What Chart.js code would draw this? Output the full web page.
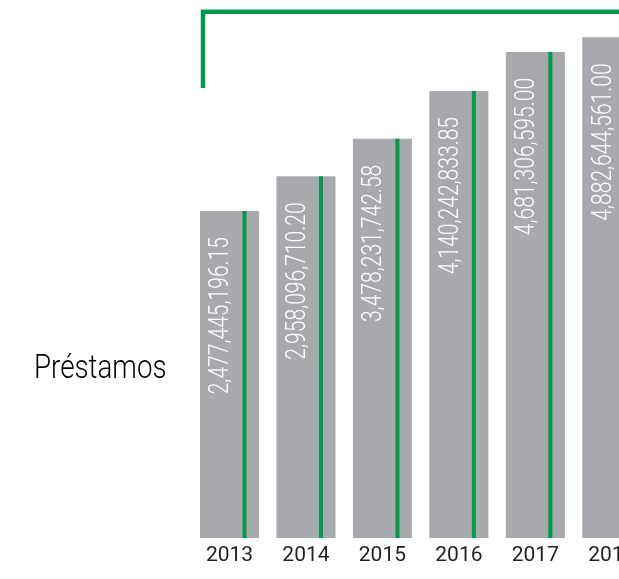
<!DOCTYPE html>
<html>
<head>
<meta charset="utf-8">
<script src="https://cdn.jsdelivr.net/npm/chart.js@4"></script>
<style>
  html, body { margin: 0; padding: 0; background: #fff; overflow: hidden; }
  #wrap { position: relative; width: 650px; height: 579px; }
</style>
</head>
<body>
<div id="wrap"><canvas id="chart"></canvas></div>
<script>
const YEARS = ["2013", "2014", "2015", "2016", "2017", "2018"];
const PRESTAMOS = [2477445196.15, 2958096710.20, 3478231742.58, 4140242833.85, 4681306595.00, 4882644561.00];
const SERIES_LABEL = "Préstamos";

const GREEN = "#009a4e";
const GREY = "#a7a9ac";
const INK = "#231f20";

const fmt = v => v.toLocaleString("en-US", { minimumFractionDigits: 2, maximumFractionDigits: 2 });

// bracket, green rule through each bar, rotated values and the row title
const decorations = {
    id: "decorations",
    afterDatasetsDraw(chart) {
        const ctx = chart.ctx;
        const meta = chart.getDatasetMeta(0);
        const area = chart.chartArea;

        ctx.save();
        ctx.strokeStyle = GREEN;
        ctx.lineWidth = 4.5;
        ctx.lineCap = "butt";
        ctx.beginPath();
        ctx.moveTo(203, 88);
        ctx.lineTo(203, 11.7);
        ctx.lineTo(chart.width, 11.7);
        ctx.stroke();

        meta.data.forEach((bar, i) => {
            ctx.fillStyle = GREEN;
            ctx.fillRect(bar.x + 13, bar.y, 4, area.bottom - bar.y);

            ctx.save();
            ctx.translate(bar.x - 1.2, bar.y + 26);
            ctx.rotate(-Math.PI / 2);
            ctx.scale(0.78, 1);
            ctx.font = "300 27px Roboto";
            ctx.fillStyle = "#ffffff";
            ctx.textAlign = "right";
            ctx.textBaseline = "alphabetic";
            ctx.fillText(fmt(PRESTAMOS[i]), 0, 0);
            ctx.restore();
        });

        ctx.save();
        ctx.translate(34, 377.5);
        ctx.scale(0.84, 1);
        ctx.font = "300 33px Roboto";
        ctx.fillStyle = "#000000";
        ctx.textAlign = "left";
        ctx.textBaseline = "alphabetic";
        ctx.fillText(SERIES_LABEL, 0, 0);
        ctx.restore();

        ctx.restore();
    },
};

new Chart(document.getElementById("chart"), {
    type: "bar",
    data: {
        labels: YEARS,
        datasets: [{
            label: SERIES_LABEL,
            data: PRESTAMOS,
            backgroundColor: GREY,
            borderWidth: 0,
            base: -2.052e9,
            categoryPercentage: 1,
            barPercentage: 0.772,
        }],
    },
    options: {
        responsive: true, maintainAspectRatio: false,
        animation: false,
        layout: { padding: { left: 191.3, right: 0, top: 0, bottom: 0 } },
        plugins: { legend: { display: false }, tooltip: { enabled: false } },
        scales: {
            x: {
                grid: { display: false, drawTicks: false },
                border: { display: false },
                ticks: { color: INK, font: { family: "Roboto", size: 21 }, padding: 5, maxRotation: 0 },
                afterFit(scale) { scale.height = 41; },
            },
            y: {
                display: false,
                min: -2.052e9, max: 5.4e9,
            },
        },
    },
    plugins: [decorations],
});
</script>
</body>
</html>
